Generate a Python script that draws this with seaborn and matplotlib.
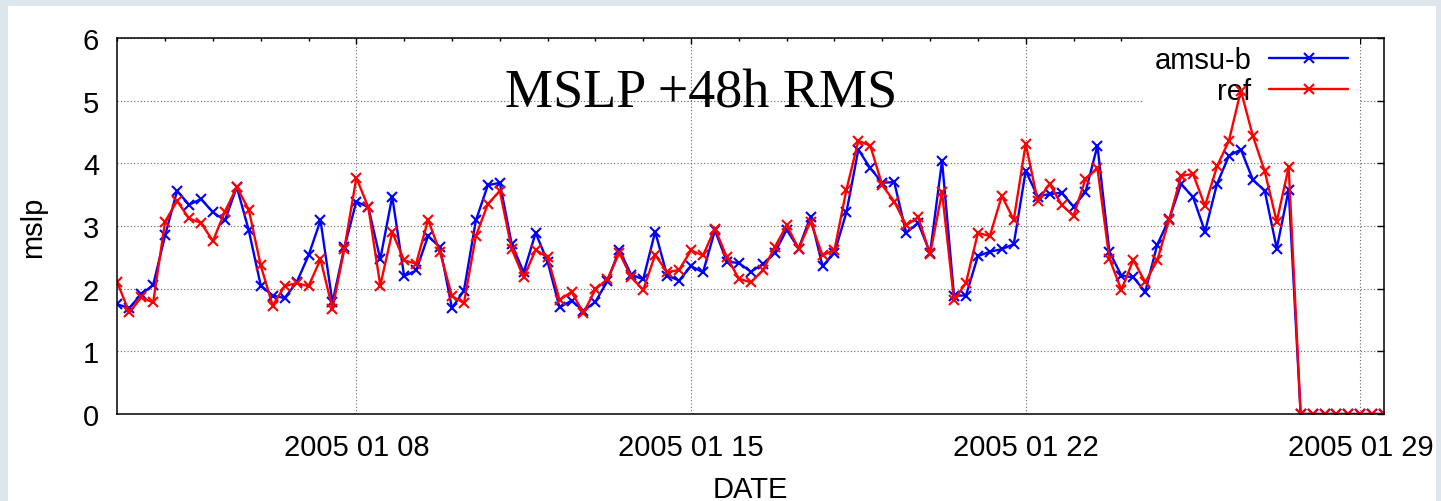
import numpy as np
import pandas as pd
import matplotlib
matplotlib.use("Agg")
import matplotlib.pyplot as plt
import matplotlib.dates as mdates
import seaborn as sns
from matplotlib.patches import Rectangle

# ---------------- data ----------------
start_time = "2005-01-03 00:00"
step = "6h"

amsu_b = [1.75, 1.69, 1.91, 2.06, 2.85, 3.56, 3.34, 3.43, 3.22, 3.09, 3.62, 2.93, 2.05, 1.89, 1.85, 2.10, 2.53, 3.09,
          1.78, 2.66, 3.39, 3.30, 2.47, 3.47, 2.20, 2.29, 2.84, 2.66, 1.69, 1.97, 3.09, 3.65, 3.69, 2.71, 2.26, 2.89,
          2.43, 1.70, 1.81, 1.65, 1.79, 2.12, 2.62, 2.22, 2.15, 2.91, 2.21, 2.13, 2.36, 2.26, 2.93, 2.43, 2.41, 2.27,
          2.39, 2.57, 2.94, 2.64, 3.15, 2.36, 2.57, 3.22, 4.22, 3.92, 3.69, 3.70, 2.89, 3.05, 2.57, 4.04, 1.89, 1.89,
          2.52, 2.59, 2.63, 2.71, 3.88, 3.47, 3.51, 3.53, 3.31, 3.54, 4.28, 2.59, 2.21, 2.18, 1.95, 2.70, 3.11, 3.67,
          3.46, 2.91, 3.67, 4.12, 4.22, 3.74, 3.56, 2.64, 3.58, 0, 0, 0, 0, 0, 0, 0, 0]

ref = [2.10, 1.62, 1.86, 1.78, 3.07, 3.40, 3.12, 3.05, 2.76, 3.23, 3.62, 3.26, 2.37, 1.73, 2.04, 2.09, 2.04, 2.47,
       1.68, 2.64, 3.77, 3.30, 2.05, 2.90, 2.45, 2.40, 3.10, 2.58, 1.88, 1.77, 2.84, 3.35, 3.56, 2.63, 2.18, 2.62,
       2.50, 1.82, 1.95, 1.61, 1.99, 2.15, 2.57, 2.18, 1.98, 2.54, 2.26, 2.30, 2.61, 2.53, 2.96, 2.50, 2.16, 2.10,
       2.29, 2.66, 3.01, 2.64, 3.07, 2.53, 2.62, 3.58, 4.36, 4.28, 3.65, 3.39, 3.01, 3.14, 2.55, 3.54, 1.82, 2.09,
       2.89, 2.84, 3.48, 3.10, 4.31, 3.40, 3.67, 3.34, 3.16, 3.75, 3.92, 2.48, 1.98, 2.46, 2.10, 2.45, 3.10, 3.80,
       3.83, 3.32, 3.95, 4.36, 5.16, 4.44, 3.87, 3.07, 3.94, 0, 0, 0, 0, 0, 0, 0, 0]

series_names = ["amsu-b", "ref"]
series_colors = ["#0000ff", "#ff0000"]
major_dates = ["2005-01-08", "2005-01-15", "2005-01-22", "2005-01-29"]
x_limits = ["2005-01-03 00:00", "2005-01-29 12:00"]
y_ticks = [0, 1, 2, 3, 4, 5, 6]
title_text = "MSLP +48h RMS"
x_label = "DATE"
y_label = "mslp"

times = pd.date_range(start_time, periods=len(amsu_b), freq=step)
df = pd.DataFrame({"time": times, "amsu-b": amsu_b, "ref": ref})

# ---------------- figure ----------------
sns.set_style("white")
plt.rcParams["font.family"] = ["Liberation Sans", "DejaVu Sans"]
plt.rcParams["text.color"] = "black"
plt.rcParams["axes.labelcolor"] = "black"
plt.rcParams["xtick.color"] = "black"
plt.rcParams["ytick.color"] = "black"

W, H = 1441, 502
fig = plt.figure(figsize=(W / 100, H / 100), dpi=100)
fig.patch.set_facecolor("#dde5ed")
fig.patches.append(Rectangle((8 / W, 0), (1436 - 8) / W, (H - 7) / H,
                             transform=fig.transFigure, facecolor="white",
                             edgecolor="none", zorder=-1))

ax_l, ax_r, ax_t, ax_b = 117.3, 1384.3, 39, 415
ax = fig.add_axes([ax_l / W, (H - ax_b) / H, (ax_r - ax_l) / W, (ax_b - ax_t) / H])
ax.set_facecolor("white")

for name, col in zip(series_names, series_colors):
    sns.lineplot(data=df, x="time", y=name, ax=ax, color=col, lw=1.7,
                 marker="x", markersize=6.5, mec=col, mew=1.5, label=name)

ax.set_xlim(pd.to_datetime(x_limits[0]), pd.to_datetime(x_limits[1]))
ax.set_ylim(y_ticks[0], y_ticks[-1])
ax.set_yticks(y_ticks)
ax.xaxis.set_major_locator(mdates.DayLocator(bymonthday=[pd.Timestamp(d).day for d in major_dates]))
ax.xaxis.set_minor_locator(mdates.DayLocator())
ax.xaxis.set_major_formatter(mdates.DateFormatter("%Y %m %d"))

ax.tick_params(axis="both", which="both", direction="in", top=True, right=True,
               labelsize=21, colors="black", labelcolor="black", width=1.0)
ax.tick_params(axis="x", which="major", length=4.5, pad=14)
ax.tick_params(axis="x", which="minor", length=2.5)
ax.tick_params(axis="y", which="major", length=5, pad=13)

for sp in ax.spines.values():
    sp.set_visible(True)
    sp.set_color("black")
    sp.set_linewidth(1.1)

ax.set_axisbelow(True)
ax.grid(True, which="major", axis="both", linestyle=(0, (1, 2)), color="0.4", lw=0.8)

ax.set_xlabel(x_label, fontsize=21, color="black")
ax.set_ylabel(y_label, fontsize=21, color="black")
ax.xaxis.set_label_coords(0.5, -0.163)
ax.yaxis.set_label_coords(-0.0555, 0.5)

ax.text(0.4607, 0.8184, title_text, transform=ax.transAxes, ha="center", va="baseline",
        fontsize=39, family=["Liberation Serif", "DejaVu Serif"], color="black")

leg = ax.legend(loc="upper right", bbox_to_anchor=(0.9805, 1.009), borderaxespad=0,
                markerfirst=False, frameon=True, fancybox=False, edgecolor="none",
                facecolor="white", framealpha=1, fontsize=21, handlelength=2.69,
                handletextpad=0.62, labelspacing=0.1, borderpad=0.4, numpoints=1)
for t in leg.get_texts():
    t.set_color("black")
leg.set_zorder(1.5)

fig.savefig("out.png", dpi=100, facecolor=fig.get_facecolor())
